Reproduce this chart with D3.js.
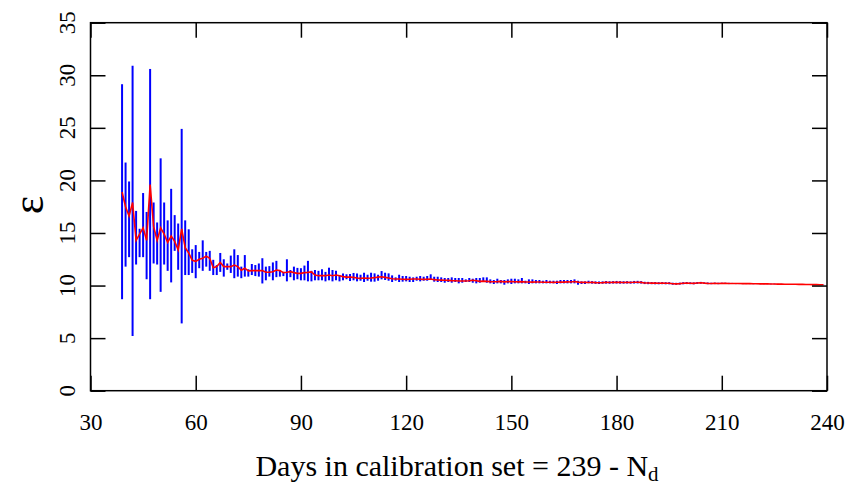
<!DOCTYPE html>
<html>
<head>
<meta charset="utf-8">
<script src="https://cdn.jsdelivr.net/npm/d3@7"></script>
<style>
  html, body { margin: 0; padding: 0; background: #fff; }
</style>
</head>
<body>
<svg id="chart" width="846" height="486"></svg>
<script>
// ---- data ----
const firstDay = 39;
const meanEps = [
  18.9, 17.5, 16.6, 17.9, 14.3, 14.9, 15.5, 14.3, 19.6, 15.6,   // 39-48
  14.3, 15.5, 14.9, 14.1, 14.7, 14.2, 13.4, 15.4, 13.6, 13.1,   // 49-58
  12.4, 12.3, 12.5, 12.6, 12.8, 12.6, 11.7, 11.8, 12.2, 11.8,   // 59-68
  11.8, 11.8, 11.95, 11.8, 11.45, 11.65, 11.4, 11.42, 11.42, 11.42, // 69-78
  11.42, 11.26, 11.26, 11.32, 11.48, 11.42, 11.23, 11.26, 11.32, 11.23, // 79-88
  11.16, 11.16, 11.23, 11.25, 11.3, 11.0, 10.94, 10.94, 10.94, 11.0, // 89-98
  10.94, 11.0, 10.94, 10.85, 10.8, 10.8, 10.78, 10.72, 10.68, 10.72, // 99-108
  10.7, 10.72, 10.75, 10.8, 10.84, 10.78, 10.72, 10.65, 10.62, 10.62, // 109-118
  10.6, 10.59, 10.6, 10.62, 10.62, 10.6, 10.59, 10.6, 10.62, 10.56, // 119-128
  10.53, 10.52, 10.5, 10.49, 10.47, 10.46, 10.44, 10.43, 10.43, 10.45, // 129-138
  10.5, 10.45, 10.4, 10.42, 10.4, 10.37, 10.36, 10.37, 10.4, 10.35, // 139-148
  10.37, 10.38, 10.36, 10.35, 10.37, 10.34, 10.34, 10.33, 10.34, 10.34, // 149-158
  10.32, 10.31, 10.32, 10.3, 10.31, 10.34, 10.33, 10.35, 10.34, 10.38, // 159-168
  10.33, 10.3, 10.3, 10.29, 10.3, 10.28, 10.27, 10.28, 10.3, 10.29, // 169-178
  10.3, 10.31, 10.3, 10.29, 10.3, 10.29, 10.31, 10.32, 10.3, 10.25, // 179-188
  10.24, 10.23, 10.23, 10.22, 10.23, 10.22, 10.22, 10.17, 10.16, 10.18, // 189-198
  10.22, 10.24, 10.22, 10.21, 10.24, 10.26, 10.23, 10.21, 10.2, 10.21, // 199-208
  10.2, 10.21, 10.21, 10.2, 10.2, 10.19, 10.19, 10.18, 10.18, 10.18, // 209-218
  10.17, 10.17, 10.16, 10.16, 10.16, 10.15, 10.15, 10.14, 10.14, 10.13, // 219-228
  10.13, 10.12, 10.12, 10.11, 10.11, 10.1, 10.1, 10.09, 10.09, 10.08, // 229-238
  10.08                                                              // 239
];
const lowerEps = [
  8.7, 11.8, 12.7, 5.2, 12.0, 12.7, 12.7, 10.6, 8.7, 12.1,
  12.0, 9.4, 12.0, 11.4, 10.3, 13.3, 11.5, 6.4, 11.0, 11.0,
  11.2, 10.7, 11.65, 11.4, 11.8, 11.4, 11.0, 11.0, 11.3, 10.85,
  11.5, 11.2, 10.7, 10.85, 10.7, 10.85, 10.85, 11.0, 10.9, 10.85,
  10.2, 10.5, 10.85, 10.5, 10.8, 10.85, 10.9, 10.4, 10.8, 10.5,
  10.6, 10.5, 10.5, 10.4, 10.4, 10.5, 10.5, 10.5, 10.4, 10.5,
  10.4, 10.5, 10.4, 10.5, 10.6, 10.43, 10.5, 10.4, 10.46, 10.34,
  10.46, 10.37, 10.37, 10.46, 10.59, 10.53, 10.46, 10.34, 10.46, 10.34,
  10.37, 10.4, 10.34, 10.34, 10.46, 10.4, 10.46, 10.46, 10.53, 10.37,
  10.34, 10.34, 10.27, 10.34, 10.27, 10.34, 10.21, 10.27, 10.34, 10.34,
  10.27, 10.21, 10.27, 10.34, 10.27, 10.21, 10.15, 10.21, 10.21, 10.08,
  10.21, 10.15, 10.21, 10.21, 10.21, 10.21, 10.15, 10.21, 10.21, 10.21,
  10.21, 10.21, 10.21, 10.21, 10.15, 10.21, 10.21, 10.21, 10.21, 10.21,
  10.08, 10.15, 10.15, 10.21, 10.18, 10.16, 10.15, 10.17, 10.18, 10.17,
  10.19, 10.19, 10.18, 10.18, 10.19, 10.18, 10.19, 10.2, 10.19, 10.14,
  10.13, 10.13, 10.12, 10.12, 10.13, 10.12, 10.12, 10.08, 10.07, 10.09,
  10.12, 10.14, 10.13, 10.12, 10.15, 10.17, 10.15, 10.13, 10.13, 10.14,
  10.13, 10.15, 10.15, 10.14, 10.15, 10.14, 10.14, 10.14, 10.14, 10.14,
  10.13, 10.14, 10.13, 10.13, 10.13, 10.12, 10.12, 10.12, 10.12, 10.11,
  10.11, 10.1, 10.1, 10.1, 10.1, 10.09, 10.09, 10.08, 10.08, 10.07,
  10.07
];
const upperEps = [
  29.15, 21.7, 19.9, 30.9, 17.1, 15.4, 18.8, 17.0, 30.6, 17.9,
  16.0, 22.1, 17.9, 16.2, 19.2, 16.7, 15.9, 24.9, 16.2, 15.35,
  13.45, 13.85, 13.2, 14.3, 13.2, 13.3, 12.45, 11.95, 13.1, 12.5,
  12.1, 12.85, 13.45, 12.9, 11.8, 12.9, 11.55, 12.05, 11.95, 12.1,
  12.6, 11.8, 11.85, 12.2, 12.35, 11.48, 11.3, 12.5, 11.48, 11.8,
  11.68, 11.65, 11.9, 12.35, 11.4, 11.48, 11.4, 11.55, 11.3, 11.7,
  11.48, 11.4, 11.0, 11.15, 11.07, 11.1, 11.2, 11.15, 11.03, 11.22,
  11.03, 11.22, 11.16, 11.03, 11.38, 11.22, 11.16, 10.97, 10.78, 11.03,
  10.91, 10.91, 10.84, 10.78, 10.84, 10.91, 10.84, 10.91, 11.07, 10.84,
  10.84, 10.78, 10.72, 10.72, 10.78, 10.72, 10.72, 10.72, 10.59, 10.72,
  10.65, 10.72, 10.72, 10.78, 10.78, 10.59, 10.53, 10.65, 10.53, 10.53,
  10.59, 10.65, 10.65, 10.59, 10.72, 10.46, 10.59, 10.59, 10.53, 10.53,
  10.46, 10.53, 10.46, 10.46, 10.46, 10.53, 10.53, 10.53, 10.53, 10.59,
  10.46, 10.4, 10.4, 10.46, 10.42, 10.4, 10.39, 10.4, 10.43, 10.41,
  10.42, 10.44, 10.42, 10.41, 10.42, 10.4, 10.44, 10.45, 10.42, 10.36,
  10.35, 10.34, 10.34, 10.32, 10.33, 10.32, 10.32, 10.27, 10.26, 10.28,
  10.32, 10.34, 10.31, 10.3, 10.33, 10.35, 10.31, 10.29, 10.27, 10.28,
  10.27, 10.27, 10.27, 10.26, 10.25, 10.24, 10.24, 10.22, 10.22, 10.22,
  10.21, 10.2, 10.19, 10.19, 10.19, 10.18, 10.18, 10.16, 10.16, 10.15,
  10.15, 10.14, 10.14, 10.12, 10.12, 10.11, 10.11, 10.1, 10.1, 10.09,
  10.09
];
const xTicks = [30, 60, 90, 120, 150, 180, 210, 240];
const yTicks = [0, 5, 10, 15, 20, 25, 30, 35];

const data = meanEps.map((m, i) => ({
  day: firstDay + i, mean: m, lo: lowerEps[i], hi: upperEps[i]
}));

// ---- layout ----
const FONT = "'Liberation Serif'";
const svg = d3.select("#chart");
const L = 90.5, R = 827, T = 22.7, B = 390.7;
const x = d3.scaleLinear().domain([30, 240]).range([L, R]);
const y = d3.scaleLinear().domain([0, 35]).range([B, T]);
const tickLen = 15;

// error bars
svg.append("g")
  .selectAll("line")
  .data(data)
  .join("line")
  .attr("x1", d => x(d.day)).attr("x2", d => x(d.day))
  .attr("y1", d => y(d.lo)).attr("y2", d => y(d.hi))
  .attr("stroke", "#0000ff")
  .attr("stroke-width", 2);

// mean line
svg.append("path")
  .datum(data)
  .attr("fill", "none")
  .attr("stroke", "#ff0000")
  .attr("stroke-width", 1.6)
  .attr("d", d3.line().x(d => x(d.day)).y(d => y(d.mean)));

// axes with inward ticks
const axStyle = g => {
  g.select(".domain").remove();
  g.selectAll(".tick line").attr("stroke", "#000").attr("stroke-width", 1.5);
};
svg.append("g").attr("transform", `translate(0,${B})`)
  .call(d3.axisBottom(x).tickValues(xTicks).tickSizeInner(-tickLen).tickSizeOuter(0).tickPadding(23))
  .call(axStyle)
  .call(g => g.selectAll(".tick text").attr("font-size", 23).style("font-family", FONT).attr("fill", "#000"));
svg.append("g").attr("transform", `translate(0,${T})`)
  .call(d3.axisTop(x).tickValues(xTicks).tickSizeInner(-tickLen).tickSizeOuter(0).tickFormat(""))
  .call(axStyle);
svg.append("g").attr("transform", `translate(${L},0)`)
  .call(d3.axisLeft(y).tickValues(yTicks).tickSizeInner(-tickLen).tickSizeOuter(0).tickFormat(""))
  .call(axStyle);
svg.append("g").attr("transform", `translate(${R},0)`)
  .call(d3.axisRight(y).tickValues(yTicks).tickSizeInner(-tickLen).tickSizeOuter(0).tickFormat(""))
  .call(axStyle);

// y tick labels (rotated)
svg.append("g").selectAll("text")
  .data(yTicks)
  .join("text")
  .attr("transform", d => `translate(75,${y(d)}) rotate(-90)`)
  .attr("text-anchor", "middle")
  .attr("font-size", 23)
  .style("font-family", FONT)
  .text(d => d);

// frame
svg.append("rect")
  .attr("x", L).attr("y", T).attr("width", R - L).attr("height", B - T)
  .attr("fill", "none").attr("stroke", "#000").attr("stroke-width", 1.5);

// axis titles
const xt = svg.append("text")
  .attr("x", 457).attr("y", 476)
  .attr("text-anchor", "middle")
  .attr("font-size", 30)
  .style("font-family", FONT);
xt.append("tspan").text("Days in calibration set = 239 - N");
xt.append("tspan").attr("dy", 5).attr("font-size", 21).text("d");

svg.append("text")
  .attr("transform", "translate(43,205) rotate(-90)")
  .attr("text-anchor", "middle")
  .attr("font-size", 44)
  .style("font-family", FONT)
  .text("ε");
</script>
</body>
</html>
